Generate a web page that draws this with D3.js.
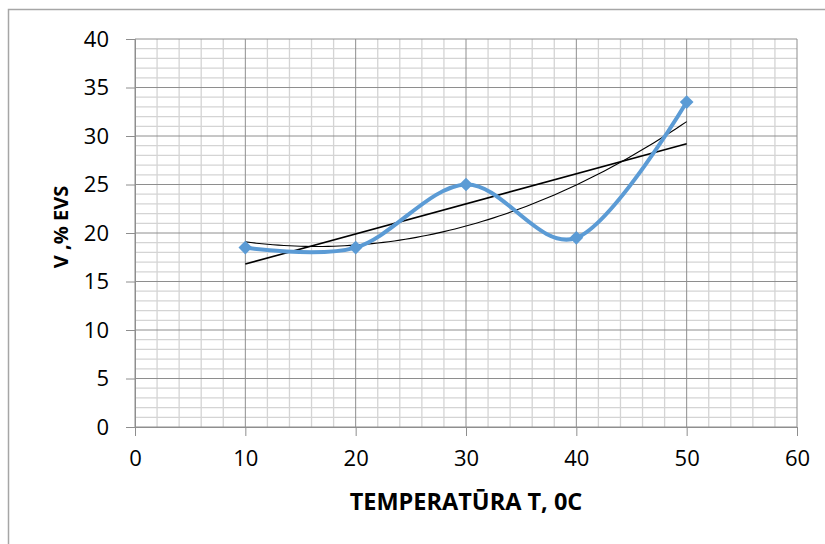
<!DOCTYPE html>
<html><head><meta charset="utf-8">
<script src="https://cdn.jsdelivr.net/npm/d3@7"></script>
<style>body{margin:0;background:#fff}svg{display:block}</style>
</head><body>
<svg id="c" width="825" height="544"></svg>
<script>
const temps = [10, 20, 30, 40, 50];
const values = [18.5, 18.5, 25, 19.5, 33.5];
const xTicks = [0, 10, 20, 30, 40, 50, 60];
const yTicks = [0, 5, 10, 15, 20, 25, 30, 35, 40];
const xTitle = "TEMPERATŪRA T, 0C";
const yTitle = "V ,% EVS";

const svg = d3.select("#c");
const L = 135, R = 797, T = 39, B = 427;
const x = d3.scaleLinear().domain([0, 60]).range([L, R]);
const y = d3.scaleLinear().domain([0, 40]).range([B, T]);
const font = "'Open Sans', 'Liberation Sans', sans-serif";

// outer chart border
svg.append("path").attr("d", "M8.5,544 V9.5 H825").attr("fill", "none")
  .attr("stroke", "#a6a6a6").attr("stroke-width", 1.5);

// minor gridlines
const g = svg.append("g");
g.selectAll(".hm").data(d3.range(0, 41, 1).filter(v => v % 5 !== 0)).join("line")
  .attr("x1", L).attr("x2", R).attr("y1", d => y(d)).attr("y2", d => y(d))
  .attr("stroke", "#d4d4d4").attr("stroke-width", 1.3);
g.selectAll(".vm").data(d3.range(0, 61, 2).filter(v => v % 10 !== 0)).join("line")
  .attr("y1", T).attr("y2", B).attr("x1", d => x(d)).attr("x2", d => x(d))
  .attr("stroke", "#d4d4d4").attr("stroke-width", 1.3);
// major gridlines
g.selectAll(".hM").data(yTicks).join("line")
  .attr("x1", L).attr("x2", R).attr("y1", d => y(d)).attr("y2", d => y(d))
  .attr("stroke", "#8e8e8e").attr("stroke-width", 1);
g.selectAll(".vM").data(xTicks).join("line")
  .attr("y1", T).attr("y2", B).attr("x1", d => x(d)).attr("x2", d => x(d))
  .attr("stroke", "#8e8e8e").attr("stroke-width", 1);

// axes
const xa = svg.append("g").attr("transform", `translate(0,${B})`)
  .call(d3.axisBottom(x).tickValues(xTicks).tickSize(9).tickPadding(14));
const ya = svg.append("g").attr("transform", `translate(${L},0)`)
  .call(d3.axisLeft(y).tickValues(yTicks).tickSize(9).tickPadding(17));
[xa, ya].forEach(a => {
  a.select(".domain").attr("stroke", "#8e8e8e");
  a.selectAll(".tick line").attr("stroke", "#8e8e8e");
  a.selectAll("text").attr("font-family", font).attr("font-size", 22).attr("fill", "#000");
});

// trendlines computed from data
const n = temps.length;
const mx = d3.mean(temps), my = d3.mean(values);
const slope = d3.sum(temps, (t, i) => (t - mx) * (values[i] - my)) / d3.sum(temps, t => (t - mx) ** 2);
const icpt = my - slope * mx;
// quadratic least squares via normal equations
function quadFit(xs, ys) {
  const S = k => d3.sum(xs, v => v ** k);
  const Sy = k => d3.sum(xs, (v, i) => v ** k * ys[i]);
  const A = [[S(0), S(1), S(2)], [S(1), S(2), S(3)], [S(2), S(3), S(4)]];
  const b = [Sy(0), Sy(1), Sy(2)];
  for (let i = 0; i < 3; i++) {
    for (let j = i + 1; j < 3; j++) {
      const f = A[j][i] / A[i][i];
      for (let k = i; k < 3; k++) A[j][k] -= f * A[i][k];
      b[j] -= f * b[i];
    }
  }
  const c = [0, 0, 0];
  for (let i = 2; i >= 0; i--) {
    let s = b[i];
    for (let k = i + 1; k < 3; k++) s -= A[i][k] * c[k];
    c[i] = s / A[i][i];
  }
  return c;
}
const q = quadFit(temps, values);
const xs = d3.range(temps[0], temps[n - 1] + 0.001, 0.5);
const line = d3.line().x(d => x(d[0])).y(d => y(d[1]));
svg.append("path").attr("d", line(xs.map(t => [t, q[0] + q[1] * t + q[2] * t * t])))
  .attr("fill", "none").attr("stroke", "#000").attr("stroke-width", 1.1);
svg.append("path").attr("d", line([temps[0], temps[n - 1]].map(t => [t, icpt + slope * t])))
  .attr("fill", "none").attr("stroke", "#000").attr("stroke-width", 1.6);

// data series
const pts = temps.map((t, i) => [t, values[i]]);
svg.append("path").attr("d", d3.line().x(d => x(d[0])).y(d => y(d[1])).curve(d3.curveCatmullRom.alpha(0))(pts))
  .attr("fill", "none").attr("stroke", "#5b9bd5").attr("stroke-width", 4).attr("stroke-linejoin", "round");
svg.selectAll(".m").data(pts).join("path")
  .attr("d", d3.symbol(d3.symbolDiamond2, 120))
  .attr("transform", d => `translate(${x(d[0])},${y(d[1])})`)
  .attr("fill", "#5b9bd5");

// titles
svg.append("text").attr("x", 466).attr("y", 510).attr("text-anchor", "middle")
  .attr("font-family", font).attr("font-weight", "bold").attr("font-size", 23.5).text(xTitle);
svg.append("text").attr("transform", "translate(68,227) rotate(-90)").attr("text-anchor", "middle")
  .attr("font-family", font).attr("font-weight", "bold").attr("font-size", 20).text(yTitle);
</script>
</body></html>
